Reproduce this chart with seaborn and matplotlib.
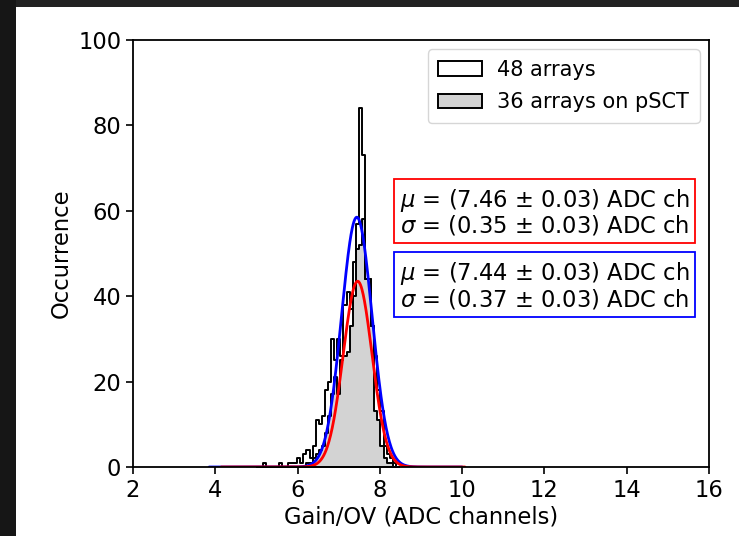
import numpy as np
import pandas as pd
import matplotlib
matplotlib.use("Agg")
import matplotlib.pyplot as plt
from matplotlib.patches import Patch, Rectangle
import seaborn as sns

# ---------------- data ----------------
bin_start = 5.015
bin_width = 0.075
counts_48 = [0, 0, 1, 0, 0, 0, 0, 1, 0, 0, 1, 1, 1, 2, 1, 3, 4, 2, 5, 11,
             10, 12, 18, 20, 30, 25, 30, 26, 38, 41, 37, 48, 57, 84, 73, 44,
             44, 33, 26, 18, 13, 5, 3, 2, 1, 0]
counts_36 = [0, 0, 0, 0, 0, 0, 0, 0, 0, 0, 0, 0, 0, 0, 0, 0, 1, 1, 2, 3,
             4, 5, 8, 12, 17, 21, 17, 25, 26, 27, 33, 40, 51, 52, 58, 44,
             44, 33, 13, 11, 5, 2, 1, 1, 0, 0]
labels = ["48 arrays", "36 arrays on pSCT"]

# gaussian fits: amplitude, mean, sigma, x-range
fit_red = dict(amp=43.5, mu=7.46, sigma=0.35, xmin=4.14, xmax=10.07)
fit_blue = dict(amp=58.5, mu=7.44, sigma=0.37, xmin=3.85, xmax=10.0)
text_red = "$\\mu$ = (7.46 $\\pm$ 0.03) ADC ch\n$\\sigma$ = (0.35 $\\pm$ 0.03) ADC ch"
text_blue = "$\\mu$ = (7.44 $\\pm$ 0.03) ADC ch\n$\\sigma$ = (0.37 $\\pm$ 0.03) ADC ch"

x_ticks = [2, 4, 6, 8, 10, 12, 14, 16]
y_ticks = [0, 20, 40, 60, 80, 100]

# ---------------- plot ----------------
sns.set_style("ticks")
plt.rcParams["font.family"] = ["DejaVu Sans"]
plt.rcParams["mathtext.fontset"] = "dejavusans"
for k in ["text.color", "axes.labelcolor", "xtick.color", "ytick.color", "axes.edgecolor"]:
    plt.rcParams[k] = "black"
FS = 16.3
FS_LEG = 15.0

W, H = 739, 536
fig = plt.figure(figsize=(W / 100, H / 100), dpi=100)
fig.patch.set_facecolor("white")
# dark frame (top and left strips)
fig.patches.append(Rectangle((0, 1 - 7 / H), 1, 7 / H, transform=fig.transFigure,
                             facecolor="#222222", edgecolor="none", zorder=0))
fig.patches.append(Rectangle((0, 0), 16 / W, 1, transform=fig.transFigure,
                             facecolor="#161616", edgecolor="none", zorder=0))

ax = fig.add_axes([133 / W, (H - 467) / H, (709 - 133) / W, (467 - 40) / H])
ax.set_facecolor("white")

n = len(counts_48)
edges = list(bin_start + bin_width * np.arange(n + 1))
centers = [(edges[i] + edges[i + 1]) / 2 for i in range(n)]
df = pd.DataFrame({"x": centers, "w48": counts_48, "w36": counts_36})

sns.histplot(data=df, x="x", weights="w36", bins=edges, element="step", fill=True,
             color="#d3d3d3", alpha=1, edgecolor="black", linewidth=1.4, ax=ax)
sns.histplot(data=df, x="x", weights="w48", bins=edges, element="step", fill=False,
             color="black", linewidth=1.4, ax=ax)

for fit, col in [(fit_blue, "#0000ff"), (fit_red, "#ff0000")]:
    xs = np.linspace(fit["xmin"], fit["xmax"], 600)
    ys = fit["amp"] * np.exp(-0.5 * ((xs - fit["mu"]) / fit["sigma"]) ** 2)
    sns.lineplot(x=xs, y=ys, color=col, linewidth=2.0, estimator=None, sort=False, ax=ax)

ax.set_xlim(2, 16)
ax.set_ylim(0, 100)
ax.set_xticks(x_ticks)
ax.set_yticks(y_ticks)
ax.tick_params(labelsize=FS, width=1.2, length=5, direction="out", colors="black")
for s in ax.spines.values():
    s.set_visible(True)
    s.set_linewidth(1.3)
    s.set_color("black")
ax.set_xlabel("Gain/OV (ADC channels)", fontsize=FS, labelpad=3)
ax.set_ylabel("Occurrence", fontsize=FS)

handles = [Patch(facecolor="white", edgecolor="black", linewidth=1.4),
           Patch(facecolor="#d3d3d3", edgecolor="black", linewidth=1.4)]
ax.legend(handles, labels, loc="upper right", fontsize=FS_LEG, frameon=True,
          borderaxespad=0.45, handlelength=2.1, handleheight=0.67, borderpad=0.5,
          labelspacing=0.6, handletextpad=0.75)

ax.text(0.4635, 0.597, text_red, transform=ax.transAxes, fontsize=FS, va="center",
        ha="left", linespacing=1.0,
        bbox=dict(boxstyle="square,pad=0.25", facecolor="white", edgecolor="#ff0000", linewidth=1.3))
ax.text(0.4635, 0.425, text_blue, transform=ax.transAxes, fontsize=FS, va="center",
        ha="left", linespacing=1.0,
        bbox=dict(boxstyle="square,pad=0.25", facecolor="white", edgecolor="#0000ff", linewidth=1.3))

fig.savefig("out.png", dpi=100, facecolor=fig.get_facecolor())
